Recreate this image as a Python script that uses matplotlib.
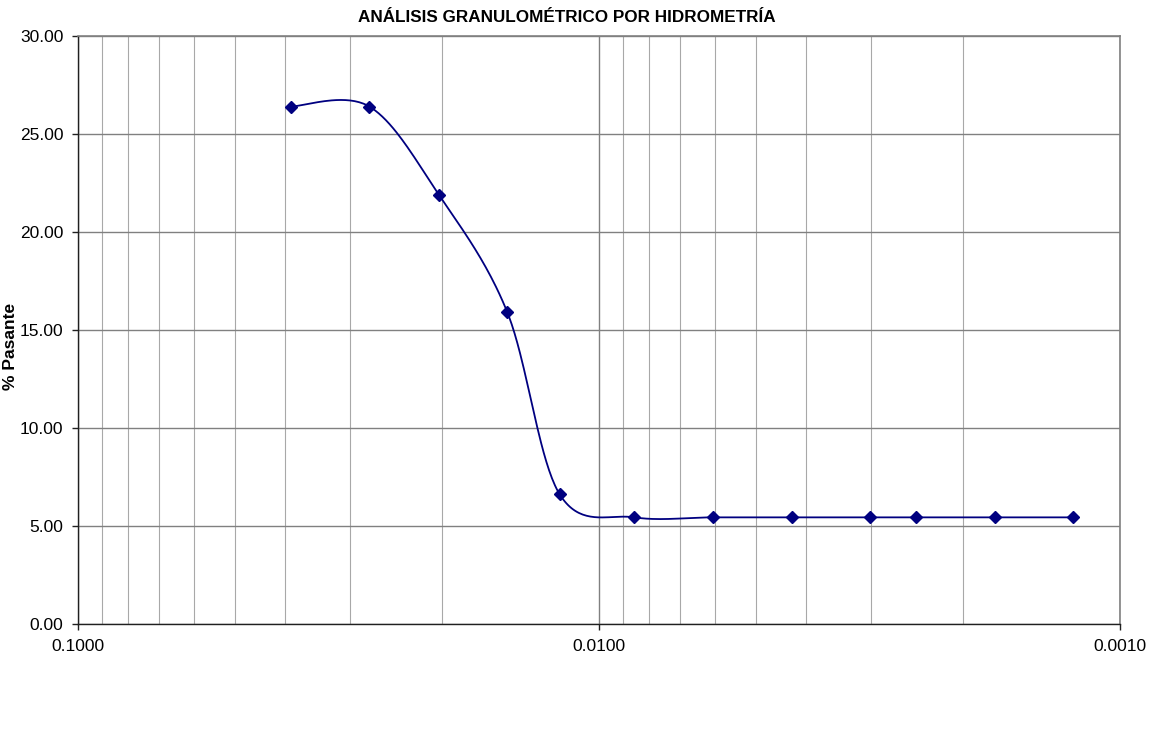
import numpy as np
import matplotlib
matplotlib.use("Agg")
import matplotlib.pyplot as plt
from matplotlib.ticker import FixedLocator, LogLocator, NullFormatter

plt.rcParams['font.family'] = ['Liberation Sans', 'DejaVu Sans']

# hydrometer readings: particle diameter (mm) and percent passing
diametro = [0.0390, 0.0276, 0.0203, 0.0150, 0.0119, 0.00855,
            0.00605, 0.00427, 0.00302, 0.00246, 0.00174, 0.00123]
pasante = [26.40, 26.40, 21.90, 15.90, 6.60, 5.42,
           5.42, 5.42, 5.42, 5.42, 5.42, 5.42]

titulo = "ANÁLISIS GRANULOMÉTRICO POR HIDROMETRÍA"
x_ticks = [0.1, 0.01, 0.001]
x_labels = ["0.1000", "0.0100", "0.0010"]
y_ticks = [0, 5, 10, 15, 20, 25, 30]


def smooth_curve(xs, ys, n=40):
    # spreadsheet-style smoothed line: cubic Bezier with Catmull-Rom handles,
    # built in log-x space so it follows the drawn axis
    lx = np.log10(xs)
    pts = np.column_stack([lx, ys])
    pad = np.vstack([pts[0], pts, pts[-1]])
    out = []
    t = np.linspace(0, 1, n)[:, None]
    for i in range(len(pts) - 1):
        p0, p1, p2, p3 = pad[i], pad[i + 1], pad[i + 2], pad[i + 3]
        c1 = p1 + (p2 - p0) / 6
        c2 = p2 - (p3 - p1) / 6
        seg = ((1 - t) ** 3) * p1 + 3 * ((1 - t) ** 2) * t * c1 \
            + 3 * (1 - t) * t ** 2 * c2 + t ** 3 * p2
        out.append(seg)
    out = np.vstack(out)
    return 10 ** out[:, 0], out[:, 1]


fig = plt.figure(figsize=(11.52, 7.33), dpi=100)
ax = fig.add_axes([78 / 1152, 1 - 623.5 / 733, (1120 - 78) / 1152, (623.5 - 36) / 733])

ax.set_xscale('log')
ax.set_xlim(0.1, 0.001)
ax.set_ylim(0, 30)

ax.xaxis.set_major_locator(FixedLocator(x_ticks))
ax.set_xticklabels(x_labels)
ax.xaxis.set_minor_locator(LogLocator(base=10, subs=np.arange(2, 10)))
ax.xaxis.set_minor_formatter(NullFormatter())
ax.set_yticks(y_ticks)
ax.set_yticklabels([f"{v:.2f}" for v in y_ticks])

ax.grid(True, which='major', axis='both', color='#808080', linewidth=1.0)
ax.grid(True, which='minor', axis='x', color='#a8a8a8', linewidth=0.8)
ax.set_axisbelow(True)

for side in ('top', 'right'):
    ax.spines[side].set_color('#808080')
    ax.spines[side].set_linewidth(1.2)
for side in ('left', 'bottom'):
    ax.spines[side].set_color('#202020')
    ax.spines[side].set_linewidth(1.0)

ax.tick_params(axis='both', which='major', direction='out', length=4,
               width=1.0, color='#202020', labelsize=12.5, labelcolor='black')
ax.tick_params(axis='x', which='minor', length=0)
ax.tick_params(axis='y', pad=6.5)
ax.tick_params(axis='x', pad=7)

sx, sy = smooth_curve(diametro, pasante)
ax.plot(sx, sy, color='#000080', linewidth=1.3, zorder=3)
ax.plot(diametro, pasante, linestyle='none', marker='D', markersize=6,
        color='#000080', zorder=4)

fig.text(567 / 1152, 1 - 18 / 733, titulo, ha='center', va='center',
         fontsize=12.3, fontweight='bold')
fig.text(11 / 1152, 1 - 346 / 733, "% Pasante", ha='center', va='center',
         rotation=90, fontsize=12.5, fontweight='bold')

fig.savefig("out.png", dpi=100)
